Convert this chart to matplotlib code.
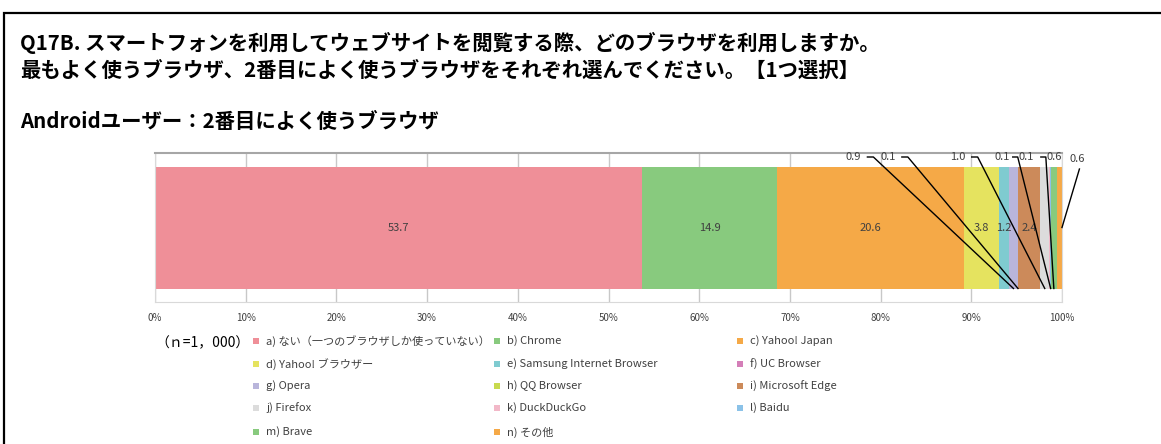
import matplotlib

matplotlib.use("Agg")
import matplotlib.pyplot as plt
import numpy as np
from matplotlib.patches import Rectangle

plt.rcParams["font.family"] = ["Noto Sans CJK JP", "DejaVu Sans"]

# --- data ---
categories = [
    "a) ない（一つのブラウザしか使っていない）", "b) Chrome", "c) Yahoo! Japan",
    "d) Yahoo! ブラウザー", "e) Samsung Internet Browser", "f) UC Browser",
    "g) Opera", "h) QQ Browser", "i) Microsoft Edge",
    "j) Firefox", "k) DuckDuckGo", "l) Baidu",
    "m) Brave", "n) その他",
]
values = [53.7, 14.9, 20.6, 3.8, 1.2, 0.0, 0.9, 0.1, 2.4, 1.0, 0.1, 0.1, 0.6, 0.6]
colors = [
    "#EF8F98", "#88CA7E", "#F5A947", "#E5E35F", "#7FCBD0", "#D47EB8",
    "#B9B5DB", "#C8DA4E", "#CC8A5A", "#DCDCDC", "#F2B8C8", "#8BC2E8",
    "#88CA7E", "#F5A947",
]
ticks = np.arange(0, 101, 10)
tick_labels = [f"{t}%" for t in ticks]

# labels drawn outside the bar: (category index, label x in %, leader side)
outside = [(6, 77.0, "r"), (7, 80.8, "r"), (9, 88.5, "r"), (10, 93.4, None),
           (11, 96.0, "l"), (12, 99.1, "l"), (13, 101.7, "n")]

W, H = 1161, 444
fig = plt.figure(figsize=(W / 100, H / 100), dpi=100)

# outer frame (only top/left visible in the crop)
fig.add_artist(Rectangle((4 / W, -0.1), 1.2, (H - 13) / H + 0.1, transform=fig.transFigure,
                         fill=False, ec="black", lw=1.6))

title_kw = dict(fontsize=14.7, fontweight="bold", color="black", va="center", ha="left")
fig.text(20 / W, 1 - 43 / H, "Q17B. スマートフォンを利用してウェブサイトを閲覧する際、どのブラウザを利用しますか。", **title_kw)
fig.text(20 / W, 1 - 70 / H, "最もよく使うブラウザ、2番目によく使うブラウザをそれぞれ選んでください。【1つ選択】", **title_kw)
fig.text(20 / W, 1 - 121 / H, "Androidユーザー：2番目によく使うブラウザ", **title_kw)

ax = fig.add_axes([155 / W, 1 - 302 / H, 907 / W, 149 / H])
bar_h = 122 / 149
lefts = np.concatenate([[0], np.cumsum(values)[:-1]])
ax.barh(0, values, left=lefts, height=bar_h, color=colors, zorder=2, lw=0)

ax.set_xlim(0, 100)
ax.set_ylim(-0.5, 0.5)
ax.set_yticks([])
ax.set_xticks(ticks)
ax.set_xticklabels(tick_labels, fontsize=7, color="#404040")
ax.tick_params(axis="x", length=0, pad=8)
ax.grid(axis="x", color="#c8c8c8", lw=1, zorder=0)
for side in ["left", "right", "bottom"]:
    ax.spines[side].set_color("#d9d9d9")
ax.spines["top"].set_color("#a6a6a6")
ax.spines["top"].set_linewidth(1.5)

centers = lefts + np.array(values) / 2
for i, v in enumerate(values):
    if v >= 1.2:
        ax.text(centers[i], 0, f"{v:.1f}", ha="center", va="center", fontsize=8, color="#404040", zorder=3)

px = 100 / 907  # one pixel in percent units
py = 1 / 149
ly = 0.5 - 4 * py
bottom = -bar_h / 2
for idx, lx, side in outside:
    yy = ly - 2 * py if side == "n" else ly
    ax.text(lx, yy, f"{values[idx]:.1f}", ha="center", va="center", fontsize=8,
            color="#404040", clip_on=False, zorder=4)
    if side == "r":
        xs = [lx + 14 * px, lx + 20 * px, centers[idx]]
        ys = [ly, ly, bottom]
    elif side == "l":
        xs = [lx - 13 * px, lx - 8 * px, centers[idx]]
        ys = [ly, ly, bottom]
    elif side == "n":
        xs = [lx + 2 * px, 100]
        ys = [ly - 12 * py, 0]
    else:
        continue
    ax.plot(xs, ys, color="black", lw=1, clip_on=False, zorder=5)

# legend
fig.text(155 / W, 1 - 343 / H, "（ｎ=1，000）", fontsize=10, va="center", ha="left")
col_x = [256, 497, 740]
row_y = [341, 364, 386, 408, 432]
for i, (name, c) in enumerate(zip(categories, colors)):
    r, k = divmod(i, 3)
    x, y = col_x[k], row_y[r]
    fig.add_artist(Rectangle(((x - 3) / W, 1 - (y + 3) / H), 6 / W, 6 / H,
                             transform=fig.transFigure, fc=c, ec="none"))
    fig.text((x + 10) / W, 1 - y / H, name, fontsize=8, color="#404040", va="center", ha="left")

fig.savefig("out.png", dpi=100)
